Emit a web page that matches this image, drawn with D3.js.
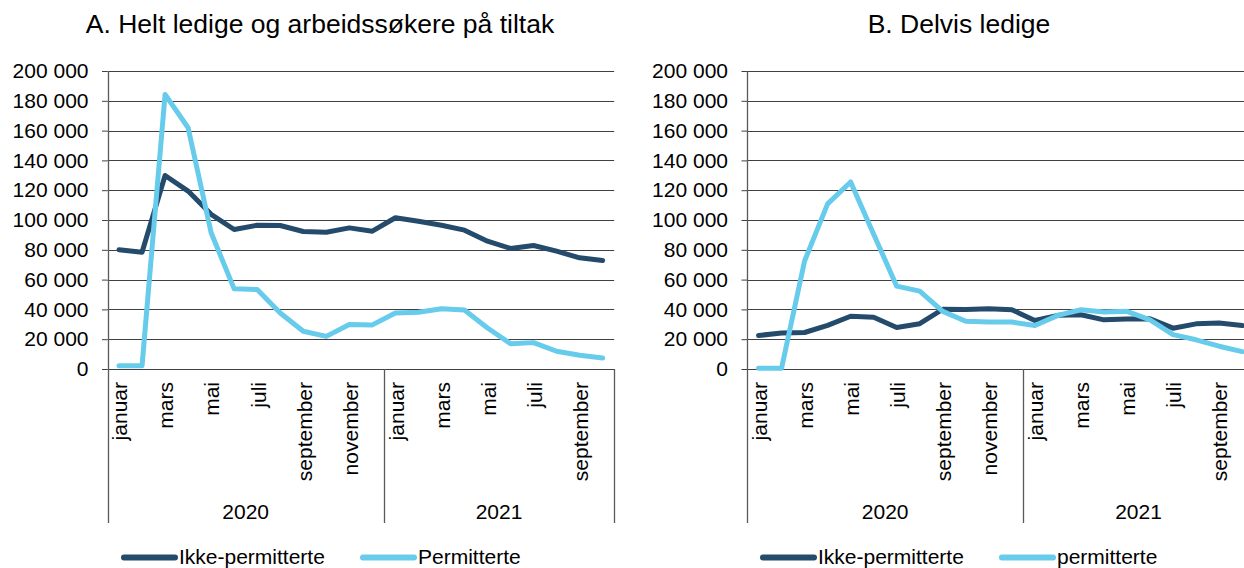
<!DOCTYPE html>
<html>
<head>
<meta charset="utf-8">
<script src="https://cdn.jsdelivr.net/npm/d3@7"></script>
<style>
  body { margin: 0; background: #fff; }
  svg { display: block; font-family: "Liberation Sans", Arial, sans-serif; }
</style>
</head>
<body>
<div id="chart"></div>
<script>
// month categories (jan 2020 - okt 2021)
var months2020 = ["januar", "februar", "mars", "april", "mai", "juni", "juli", "august", "september", "oktober", "november", "desember"];
var months2021 = ["januar", "februar", "mars", "april", "mai", "juni", "juli", "august", "september", "oktober"];
var years = ["2020", "2021"];
var yTicks = [0, 20000, 40000, 60000, 80000, 100000, 120000, 140000, 160000, 180000, 200000];

// A. Helt ledige og arbeidssøkere på tiltak (personer)
var aIkkePerm = [80000, 78400, 129900, 119400, 103800, 93600, 96500, 96300, 92300, 91800, 94700, 92500,
                 101500, 99200, 96500, 93200, 85800, 80900, 82900, 79100, 74600, 72800];
var aPerm = [2200, 2200, 184300, 161900, 91400, 53800, 53300, 37600, 25300, 21900, 29800, 29600,
             37600, 38100, 40500, 39600, 27500, 17000, 17700, 11900, 9200, 7400];

// B. Delvis ledige (personer)
var bIkkePerm = [22500, 24100, 24500, 29300, 35400, 34700, 27900, 30400, 40100, 39900, 40500, 39800,
                 32600, 36000, 36400, 33000, 33500, 33700, 27400, 30300, 30800, 29200];
var bPerm = [500, 500, 72500, 110800, 125500, 90500, 55600, 52300, 38700, 32000, 31500, 31500,
             29200, 36000, 39800, 38200, 38700, 33000, 23100, 19600, 15300, 11700];

var darkBlue = "#254b6c",
    lightBlue = "#67cbec";

var W = 1244, H = 568;
var svg = d3.select("#chart").append("svg")
    .attr("width", W)
    .attr("height", H);

var fmt = d3.formatLocale({ decimal: ",", thousands: " ", grouping: [3], currency: ["", ""] }).format(",");

// build category keys
var cats = [];
months2020.forEach(function(m, i) { cats.push({ key: "2020-" + i, year: "2020", label: m, idx: i }); });
months2021.forEach(function(m, i) { cats.push({ key: "2021-" + i, year: "2021", label: m, idx: i }); });

function drawPanel(opt) {
    var monthW = 23.03;
    var x0 = opt.left;
    var x1 = x0 + monthW * cats.length;
    var yTop = 71, yZero = 369, yBottom = 523;

    var g = svg.append("g");

    var x = d3.scaleBand()
        .domain(cats.map(function(d) { return d.key; }))
        .range([x0, x1])
        .paddingInner(0)
        .paddingOuter(0);

    var y = d3.scaleLinear()
        .domain([0, 200000])
        .range([yZero, yTop]);

    // title
    g.append("text")
        .attr("x", opt.titleX)
        .attr("y", 33)
        .attr("text-anchor", "middle")
        .style("font-size", "26.5px")
        .style("fill", "#000")
        .text(opt.title);

    // gridlines
    g.selectAll(".grid")
        .data(yTicks)
        .join("line")
        .attr("class", "grid")
        .attr("x1", x0)
        .attr("x2", x1)
        .attr("y1", function(d) { return Math.round(y(d)) + 0.5; })
        .attr("y2", function(d) { return Math.round(y(d)) + 0.5; })
        .style("stroke", "#404040")
        .style("stroke-width", 1);

    // y axis
    var yAxis = d3.axisLeft(y)
        .tickValues(yTicks)
        .tickSize(5.5)
        .tickPadding(13.5)
        .tickFormat(function(d) { return fmt(d); });

    var ya = g.append("g")
        .attr("transform", "translate(" + x0 + ",0)")
        .call(yAxis);
    ya.select(".domain").remove();
    ya.selectAll(".tick line").style("stroke", "#404040");
    ya.selectAll(".tick text")
        .style("font-size", "21px")
        .style("font-family", "'Liberation Sans', Arial, sans-serif")
        .style("fill", "#000");

    // vertical axis line + category separators
    var seps = [x0, x("2021-0"), x1];
    g.selectAll(".sep")
        .data(seps)
        .join("line")
        .attr("class", "sep")
        .attr("x1", function(d) { return Math.round(d) + 0.5; })
        .attr("x2", function(d) { return Math.round(d) + 0.5; })
        .attr("y1", function(d, i) { return i === 0 ? yTop : yZero; })
        .attr("y2", yBottom)
        .style("stroke", "#595959")
        .style("stroke-width", 1.3);

    // month labels, every other month
    g.selectAll(".month")
        .data(cats.filter(function(d) { return d.idx % 2 === 0; }))
        .join("text")
        .attr("class", "month")
        .attr("transform", function(d) {
            return "translate(" + (x(d.key) + x.bandwidth() / 2 + 1) + ",382)rotate(-90)";
        })
        .attr("dy", "0.35em")
        .attr("text-anchor", "end")
        .style("font-size", "21px")
        .text(function(d) { return d.label; });

    // year labels
    var yearSpan = {
        "2020": [x0, x("2021-0")],
        "2021": [x("2021-0"), x1]
    };
    g.selectAll(".year")
        .data(years)
        .join("text")
        .attr("class", "year")
        .attr("x", function(d) { return (yearSpan[d][0] + yearSpan[d][1]) / 2; })
        .attr("y", 519)
        .attr("text-anchor", "middle")
        .style("font-size", "21px")
        .text(function(d) { return d; });

    // lines
    var line = d3.line()
        .x(function(d, i) { return x(cats[i].key) + x.bandwidth() / 2; })
        .y(function(d) { return y(d); });

    g.selectAll(".series")
        .data(opt.series)
        .join("path")
        .attr("class", "series")
        .attr("d", function(s) { return line(s.values); })
        .style("fill", "none")
        .style("stroke", function(s) { return s.color; })
        .style("stroke-width", 5)
        .style("stroke-linejoin", "round")
        .style("stroke-linecap", "round");

    // legend
    var leg = g.selectAll(".legend")
        .data(opt.series)
        .join("g")
        .attr("class", "legend");
    leg.append("line")
        .attr("x1", function(s, i) { return opt.legendX[i] + 2; })
        .attr("x2", function(s, i) { return opt.legendX[i] + 53; })
        .attr("y1", 557.5)
        .attr("y2", 557.5)
        .style("stroke", function(s) { return s.color; })
        .style("stroke-width", 6)
        .style("stroke-linecap", "round");
    leg.append("text")
        .attr("x", function(s, i) { return opt.legendX[i] + 57; })
        .attr("y", 564)
        .style("font-size", "21px")
        .text(function(s) { return s.name; });
}

drawPanel({
    left: 107.5,
    titleX: 320,
    title: "A. Helt ledige og arbeidssøkere på tiltak",
    legendX: [122, 361],
    series: [
        { name: "Ikke-permitterte", values: aIkkePerm, color: darkBlue },
        { name: "Permitterte", values: aPerm, color: lightBlue }
    ]
});

drawPanel({
    left: 747,
    titleX: 959,
    title: "B. Delvis ledige",
    legendX: [761, 1000],
    series: [
        { name: "Ikke-permitterte", values: bIkkePerm, color: darkBlue },
        { name: "permitterte", values: bPerm, color: lightBlue }
    ]
});
</script>
</body>
</html>
